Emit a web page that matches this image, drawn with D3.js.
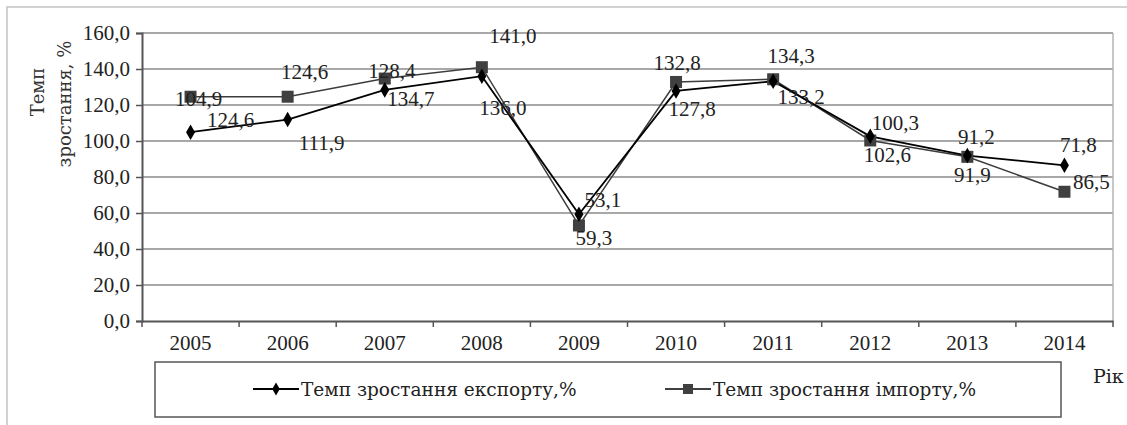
<!DOCTYPE html>
<html lang="uk">
<head>
<meta charset="UTF-8">
<title>Темп зростання експорту та імпорту</title>
<script src="https://d3js.org/d3.v7.min.js"></script>
<style>
  body { margin: 0; background: #fff; }
  svg text { font-family: "Liberation Serif", serif; }
  svg text.cyr { font-family: "DejaVu Serif", "Liberation Serif", serif; }
</style>
</head>
<body>
<svg width="1127" height="425"></svg>
<script>
// data
const years = ["2005", "2006", "2007", "2008", "2009", "2010", "2011", "2012", "2013", "2014"];
const exportVals = [104.9, 111.9, 128.4, 136.0, 59.3, 127.8, 133.2, 102.6, 91.9, 86.5];
const importVals = [124.6, 124.6, 134.7, 141.0, 53.1, 132.8, 134.3, 100.3, 91.2, 71.8];
const yTicks = [0, 20, 40, 60, 80, 100, 120, 140, 160];

// where the data labels sit relative to their point (px)
const exportLabelOffsets = [[8, -33], [34, 23], [7, -19], [21, 32], [15, 24], [16, 18], [28, 16], [17, 19], [5, 19], [27, 17]];
const importLabelOffsets = [[40, 23], [17, -25], [26, 20], [31, -31], [24, -25], [1, -19], [18, -23], [25, -17], [9, -20], [14, -47]];

const fmt = v => v.toFixed(1).replace(".", ",");
const serif = "Liberation Serif, serif";

const svg = d3.select("svg");
const margin = { top: 33, right: 14, bottom: 104, left: 142 };
const width = 1127 - margin.left - margin.right;
const height = 425 - margin.top - margin.bottom;

// outer chart frame (only top/left visible)
svg.append("path")
    .attr("d", "M7,425 V7 H1127")
    .attr("fill", "none")
    .attr("stroke", "#c4c4c4")
    .attr("stroke-width", 1.5);

const g = svg.append("g")
    .attr("transform", `translate(${margin.left},${margin.top})`);

const x = d3.scaleBand().domain(years).range([0, width]);
const y = d3.scaleLinear().domain([0, 160]).range([height, 0]);
const cx = d => x(d) + x.bandwidth() / 2;

// gridlines
g.selectAll(".grid")
    .data(yTicks.filter(t => t > 0))
    .enter()
    .append("line")
        .attr("x1", 0)
        .attr("x2", width)
        .attr("y1", d => y(d))
        .attr("y2", d => y(d))
        .attr("stroke", "#a8a8a8")
        .attr("stroke-width", 2);

// right border of plot area
g.append("line")
    .attr("x1", width).attr("x2", width)
    .attr("y1", 0).attr("y2", height)
    .attr("stroke", "#b5b5b5")
    .attr("stroke-width", 1.5);

// y axis
const yAxis = g.append("g")
    .call(d3.axisLeft(y).tickValues(yTicks).tickFormat(fmt).tickSize(6).tickPadding(6));
yAxis.attr("font-family", serif);
yAxis.select(".domain").attr("stroke", "#555").attr("stroke-width", 2);
yAxis.selectAll(".tick line").attr("stroke", "#555").attr("stroke-width", 1.5);
yAxis.selectAll("text")
    .attr("font-size", "21px")
    .attr("fill", "#222");

// x axis: ticks between categories
const xAxis = g.append("g")
    .attr("transform", `translate(0,${height})`)
    .call(d3.axisBottom(x).tickSize(0).tickPadding(14));
xAxis.attr("font-family", serif);
xAxis.select(".domain").attr("stroke", "#555").attr("stroke-width", 2);
xAxis.selectAll("text")
    .attr("font-size", "21px")
    .attr("fill", "#222");
g.append("g")
    .selectAll("line")
    .data(d3.range(years.length + 1))
    .enter()
    .append("line")
        .attr("x1", i => i * x.bandwidth())
        .attr("x2", i => i * x.bandwidth())
        .attr("y1", height)
        .attr("y2", height + 6)
        .attr("stroke", "#555")
        .attr("stroke-width", 1.5);

// lines
const line = d3.line().x((d, i) => cx(years[i])).y(d => y(d));

g.append("path")
    .datum(importVals)
    .attr("d", line)
    .attr("fill", "none")
    .attr("stroke", "#3c3c3c")
    .attr("stroke-width", 1.5);

g.append("path")
    .datum(exportVals)
    .attr("d", line)
    .attr("fill", "none")
    .attr("stroke", "#000")
    .attr("stroke-width", 1.8);

// markers
g.selectAll(".sq")
    .data(importVals)
    .enter()
    .append("rect")
        .attr("x", (d, i) => cx(years[i]) - 6)
        .attr("y", d => y(d) - 6)
        .attr("width", 12)
        .attr("height", 12)
        .attr("fill", "#404040");

const diamond = d3.symbol().type(d3.symbolDiamond).size(70);
g.selectAll(".dm")
    .data(exportVals)
    .enter()
    .append("path")
        .attr("d", diamond)
        .attr("transform", (d, i) => `translate(${cx(years[i])},${y(d)})`)
        .attr("fill", "#000");

// data labels
function labels(vals, offs) {
    g.append("g")
        .selectAll("text")
        .data(vals)
        .enter()
        .append("text")
            .attr("x", (d, i) => cx(years[i]) + offs[i][0])
            .attr("y", (d, i) => y(d) + offs[i][1])
            .attr("text-anchor", "middle")
            .attr("dominant-baseline", "central")
            .attr("font-size", "21px")
            .attr("fill", "#222")
            .text(fmt);
}
labels(exportVals, exportLabelOffsets);
labels(importVals, importLabelOffsets);

// y axis title
svg.append("text")
    .attr("class", "cyr")
    .attr("transform", "translate(37,92) rotate(-90)")
    .attr("text-anchor", "middle")
    .attr("dominant-baseline", "central")
    .attr("font-size", "18px")
    .attr("fill", "#333")
    .text("Темп");
svg.append("text")
    .attr("class", "cyr")
    .attr("transform", "translate(64,104) rotate(-90)")
    .attr("text-anchor", "middle")
    .attr("dominant-baseline", "central")
    .attr("font-size", "18px")
    .attr("fill", "#333")
    .text("зростання, %");

// x axis title
svg.append("text")
    .attr("class", "cyr")
    .attr("x", 1093)
    .attr("y", 376)
    .attr("dominant-baseline", "central")
    .attr("font-size", "19px")
    .attr("fill", "#222")
    .text("Рік");

// legend
const lg = svg.append("g");
lg.append("rect")
    .attr("x", 155).attr("y", 362)
    .attr("width", 906).attr("height", 55)
    .attr("fill", "#fff")
    .attr("stroke", "#555")
    .attr("stroke-width", 1.5);

const legendItems = [
    { name: "Темп зростання експорту,%", x: 253, color: "#000", shape: "diamond" },
    { name: "Темп зростання імпорту,%", x: 665, color: "#404040", shape: "square" }
];
legendItems.forEach(it => {
    lg.append("line")
        .attr("x1", it.x).attr("x2", it.x + 46)
        .attr("y1", 389).attr("y2", 389)
        .attr("stroke", it.color)
        .attr("stroke-width", 1.8);
    if (it.shape === "diamond") {
        lg.append("path")
            .attr("d", d3.symbol().type(d3.symbolDiamond).size(50))
            .attr("transform", `translate(${it.x + 23},389)`)
            .attr("fill", it.color);
    } else {
        lg.append("rect")
            .attr("x", it.x + 18).attr("y", 384)
            .attr("width", 10).attr("height", 10)
            .attr("fill", it.color);
    }
    lg.append("text")
        .attr("class", "cyr")
        .attr("x", it.x + 48)
        .attr("y", 389)
        .attr("dominant-baseline", "central")
        .attr("font-size", "18.5px")
        .attr("fill", "#222")
        .text(it.name);
});
</script>
</body>
</html>
